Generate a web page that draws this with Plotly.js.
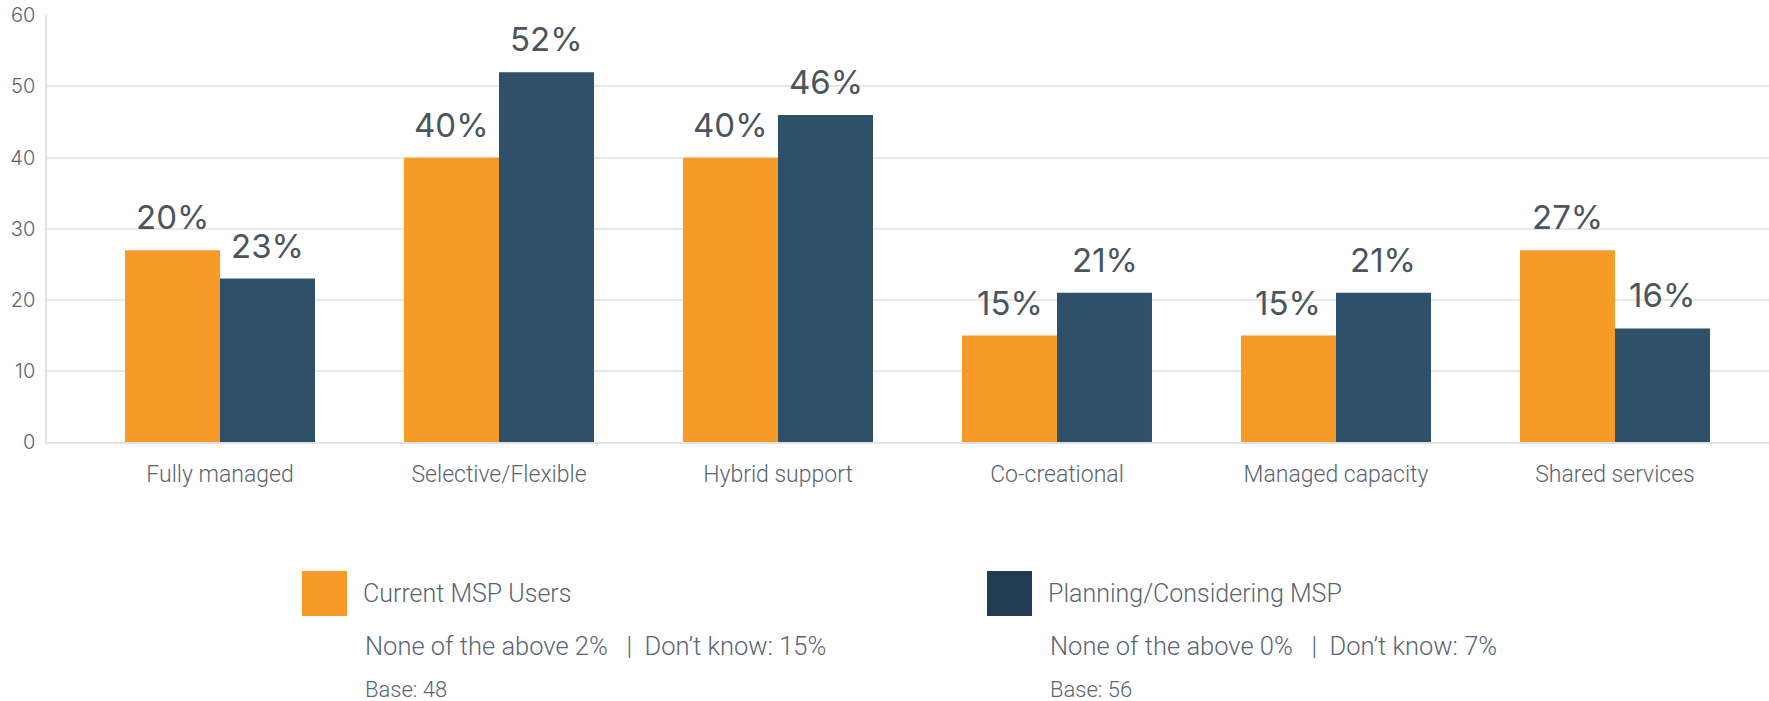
<!DOCTYPE html>
<html>
<head>
<meta charset="utf-8">
<script src="https://cdn.plot.ly/plotly-3.0.1.min.js"></script>
<style>
  html, body { margin: 0; padding: 0; background: #ffffff; }
  #chart { width: 1769px; height: 701px; }
</style>
</head>
<body>
<div id="chart"></div>
<script>
// ---- Data ----
const categories = ['Fully managed', 'Selective/Flexible', 'Hybrid support', 'Co-creational', 'Managed capacity', 'Shared services'];
const currentValues = [27, 40, 40, 15, 15, 27];
const planningValues = [23, 52, 46, 21, 21, 16];
const currentLabels = ['20%', '40%', '40%', '15%', '15%', '27%'];
const planningLabels = ['23%', '52%', '46%', '21%', '21%', '16%'];
const seriesNames = ['Current MSP Users', 'Planning/Considering MSP'];
const seriesNotes = ['None of the above 2%  \u00a0|\u00a0 Don\u2019t know: 15%', 'None of the above 0%  \u00a0|\u00a0 Don\u2019t know: 7%'];
const seriesBases = ['Base: 48', 'Base: 56'];
const yTicks = [0, 10, 20, 30, 40, 50, 60];

// ---- Style ----
const W = 1769, H = 701;
const ORANGE = '#F89A27';
const NAVY = '#2F5069';
const NAVY_LEGEND = '#233B50';
const FONT = 'Roboto, "Open Sans", sans-serif';
const NUM_FONT = 'Inter, Roboto, sans-serif';
const LABEL_COLOR = '#4A555E';
const AXIS_COLOR = '#5A6570';
const px = x => x / W;
const py = y => 1 - y / H;

const traces = [
  { type: 'bar', name: seriesNames[0], x: categories, y: currentValues, marker: { color: ORANGE }, hoverinfo: 'x+y' },
  { type: 'bar', name: seriesNames[1], x: categories, y: planningValues, marker: { color: NAVY }, hoverinfo: 'x+y' }
];

const annotations = [];
categories.forEach((c, i) => {
  annotations.push({ x: c, y: currentValues[i], xref: 'x', yref: 'y', text: currentLabels[i], showarrow: false,
    xanchor: 'center', yanchor: 'bottom', xshift: -47.5, yshift: 11,
    font: { family: NUM_FONT, size: 33, color: LABEL_COLOR } });
  annotations.push({ x: c, y: planningValues[i], xref: 'x', yref: 'y', text: planningLabels[i], showarrow: false,
    xanchor: 'center', yanchor: 'bottom', xshift: 47.5, yshift: 11,
    font: { family: NUM_FONT, size: 33, color: LABEL_COLOR } });
});

// custom legend
const legendX = [302, 987];
const legendColors = [ORANGE, NAVY_LEGEND];
const shapes = [];
for (let k = 0; k < 2; k++) {
  shapes.push({ type: 'rect', xref: 'paper', yref: 'paper',
    x0: px(legendX[k]), x1: px(legendX[k] + 45), y0: py(616), y1: py(571),
    fillcolor: legendColors[k], line: { width: 0 } });
  annotations.push({ xref: 'paper', yref: 'paper', x: px(legendX[k] + 59), y: py(593), xanchor: 'left', yanchor: 'middle',
    text: seriesNames[k], showarrow: false, font: { family: FONT, size: 25, color: AXIS_COLOR, weight: 300 } });
  annotations.push({ xref: 'paper', yref: 'paper', x: px(legendX[k] + 61), y: py(646), xanchor: 'left', yanchor: 'middle',
    text: seriesNotes[k], showarrow: false, font: { family: FONT, size: 25.5, color: AXIS_COLOR, weight: 300 } });
  annotations.push({ xref: 'paper', yref: 'paper', x: px(legendX[k] + 61), y: py(689), xanchor: 'left', yanchor: 'middle',
    text: seriesBases[k], showarrow: false, font: { family: FONT, size: 22, color: AXIS_COLOR, weight: 300 } });
}

const layout = {
  width: W, height: H,
  margin: { l: 0, r: 0, t: 0, b: 0 },
  paper_bgcolor: '#ffffff', plot_bgcolor: '#ffffff',
  showlegend: false,
  barmode: 'group',
  bargap: 0.319,
  bargroupgap: 0,
  font: { family: FONT, color: AXIS_COLOR },
  xaxis: {
    type: 'category',
    domain: [px(47.3), 1],
    range: [-0.619, 5.552],
    showgrid: false,
    showline: true, linecolor: '#e2e2e2', linewidth: 2,
    ticks: '',
    tickfont: { family: FONT, size: 23, color: AXIS_COLOR, weight: 300 },
    ticklabelstandoff: 10,
    fixedrange: true
  },
  yaxis: {
    domain: [1 - 442.3 / H, 1 - 15.3 / H],
    range: [0, 60],
    tickvals: yTicks,
    showgrid: true, gridcolor: '#e8e8e8', gridwidth: 2,
    zeroline: false,
    showline: true, linecolor: '#e2e2e2', linewidth: 2,
    ticks: '',
    tickfont: { family: NUM_FONT, size: 20, color: AXIS_COLOR, weight: 300 },
    ticklabelstandoff: 6,
    fixedrange: true
  },
  shapes: shapes,
  annotations: annotations
};

Plotly.newPlot('chart', traces, layout, { displayModeBar: false, staticPlot: true });
</script>
</body>
</html>
